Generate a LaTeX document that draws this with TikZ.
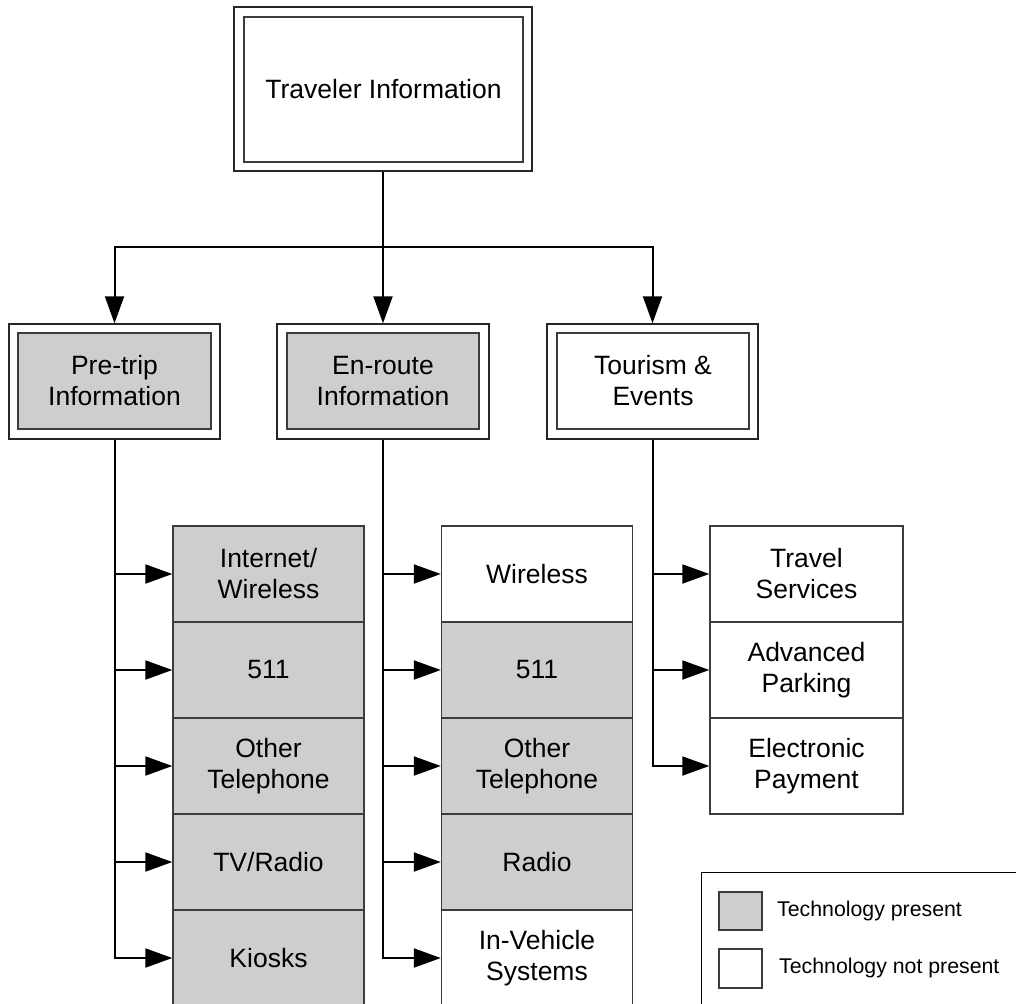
\documentclass[tikz,border=0pt]{standalone}
\usepackage{fontspec}
\setmainfont{Liberation Sans}
\usetikzlibrary{arrows.meta}
\definecolor{present}{RGB}{206,206,206}
\definecolor{edge}{RGB}{60,60,60}
\tikzset{
  boxfont/.style={font=\fontsize{26.5}{31}\selectfont},
  outerbox/.style={draw=black!85, line width=1.4pt, fill=white, inner sep=0pt},
  innerbox/.style={draw=edge, line width=1.4pt, inner sep=0pt, align=center, boxfont},
  leaf/.style={draw=edge, line width=1.4pt, inner sep=0pt, align=center, boxfont,
    minimum width=191pt, minimum height=96pt},
  on/.style={fill=present},
  off/.style={fill=white},
  arr/.style={line width=2pt, -{Triangle[length=27pt,width=19pt]}},
  legtext/.style={anchor=west, inner sep=0pt, font=\fontsize{21.3}{24}\selectfont}
}
\begin{document}
\begin{tikzpicture}[x=1pt,y=-1pt]
\clip (0,0) rectangle (1016,1003);
\fill[white] (0,0) rectangle (1016,1003);

% top
\node[outerbox, minimum width=298pt, minimum height=164pt] (top) at (383,89) {};
\node[innerbox, off, minimum width=279pt, minimum height=145pt] (topIn) at (383.5,89.5) {Traveler Information};

% level 2
\node[outerbox, minimum width=211pt, minimum height=115pt] (pre) at (114.5,381.5) {};
\node[innerbox, on, minimum width=193pt, minimum height=96pt] (preIn) at (114.5,381) {Pre-trip\\Information};
\node[outerbox, minimum width=212pt, minimum height=115pt] (enr) at (383,381.5) {};
\node[innerbox, on, minimum width=192pt, minimum height=96pt] (enrIn) at (383,381) {En-route\\Information};
\node[outerbox, minimum width=211pt, minimum height=115pt] (tour) at (652.5,381.5) {};
\node[innerbox, off, minimum width=192pt, minimum height=96pt] (tourIn) at (653,381) {Tourism \&\\Events};

% left column
\node[leaf, on] (p1) at (268.5,574) {Internet/\\Wireless};
\node[leaf, on] (p2) at (268.5,670) {511};
\node[leaf, on] (p3) at (268.5,766) {Other\\Telephone};
\node[leaf, on] (p4) at (268.5,862) {TV/Radio};
\node[leaf, on] (p5) at (268.5,958) {Kiosks};

% middle column
\node[leaf, off] (e1) at (537,574) {Wireless};
\node[leaf, on] (e2) at (537,670) {511};
\node[leaf, on] (e3) at (537,766) {Other\\Telephone};
\node[leaf, on] (e4) at (537,862) {Radio};
\node[leaf, off] (e5) at (537,958) {In-Vehicle\\Systems};

% right column
\node[leaf, off, minimum width=193pt] (t1) at (806.5,574) {Travel\\Services};
\node[leaf, off, minimum width=193pt] (t2) at (806.5,670) {Advanced\\Parking};
\node[leaf, off, minimum width=193pt] (t3) at (806.5,766) {Electronic\\Payment};

% connectors
\coordinate (split) at (383,247);
\draw[line width=2pt] (top.south) -- (split);
\draw[arr] (split) -| (pre.north);
\draw[arr] (split) -- (enr.north);
\draw[arr] (split) -| (tour.north);

\foreach \n in {p1,p2,p3,p4,p5} \draw[arr] (pre.south) |- (\n.west);
\foreach \n in {e1,e2,e3,e4,e5} \draw[arr] (enr.south) |- (\n.west);
\foreach \n in {t1,t2,t3} \draw[arr] (tour.south) |- (\n.west);

% legend
\node[draw=black, line width=1.4pt, fill=white, inner sep=0pt, minimum width=330pt, minimum height=150pt, anchor=north west] (legend) at (701,872) {};
\node[draw=edge, line width=1.2pt, fill=present, minimum width=43pt, minimum height=38pt, inner sep=0pt] (legOn) at (740.5,911) {};
\node[draw=edge, line width=1.2pt, fill=white, minimum width=43pt, minimum height=39pt, inner sep=0pt] (legOff) at (740.5,968.5) {};
\node[legtext] (legOnT) at (777,911) {Technology present};
\node[legtext] (legOffT) at (779,968) {Technology not present};
\end{tikzpicture}
\end{document}
